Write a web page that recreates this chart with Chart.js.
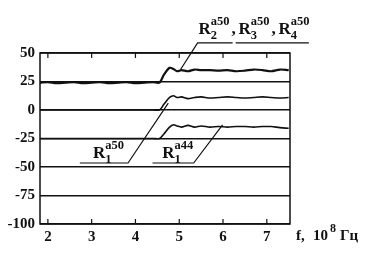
<!DOCTYPE html>
<html>
<head>
<meta charset="utf-8">
<script src="https://cdn.jsdelivr.net/npm/chart.js@4/dist/chart.umd.min.js"></script>
<style>
  body { margin: 0; background: #fff; }
</style>
</head>
<body>
<canvas id="c" width="370" height="270"></canvas>
<script>
// frequency, 10^8 Hz
const freq = [1.82, 2.0, 2.2, 2.4, 2.6, 2.8, 3.0, 3.2, 3.4, 3.6, 3.8, 4.0, 4.2, 4.4, 4.55,
  4.65, 4.78, 4.87, 4.95, 5.05, 5.2, 5.35, 5.5, 5.7, 5.9, 6.1, 6.3, 6.5, 6.7, 6.9, 7.1, 7.3, 7.5];
const r234 = [24, 24.5, 23.5, 24, 24.5, 23.5, 24, 24.5, 23.5, 24, 24.5, 23.5, 24, 24.5, 24,
  31, 37, 36, 34, 35, 34, 35.5, 35, 35, 34.5, 35, 34, 34.5, 35.5, 35, 34, 35.5, 35];
const r150 = [0, 0, 0, 0, 0, 0, 0, 0, 0, 0, 0, 0, 0, 0, 0,
  5, 11, 12.5, 11, 11.5, 10, 11, 11.5, 10.5, 11, 11.5, 11, 10.5, 11, 11.5, 11, 10.5, 11];
const r144 = [-25, -25, -25, -25, -25, -25, -25, -25, -25, -25, -25, -25, -25, -25, -25,
  -21, -15, -13, -14, -15, -13.5, -15, -14, -15, -14.5, -15, -14.5, -14.5, -15, -14.5, -14.5, -15.5, -16];
const xTicks = [2, 3, 4, 5, 6, 7];
const yTicks = [-100, -75, -50, -25, 0, 25, 50];

// leader lines for the curve labels (data coordinates)
const leaderTopA = [{x: 7.96, y: 58.8}, {x: 6.29, y: 58.8}];
const leaderTopB = [{x: 6.22, y: 58.8}, {x: 5.42, y: 58.8}, {x: 5.03, y: 35.5}];
const leader150 = [{x: 2.73, y: -46.5}, {x: 3.83, y: -46.5}, {x: 4.75, y: 6}];
const leader144 = [{x: 4.39, y: -46.5}, {x: 5.33, y: -46.5}, {x: 5.99, y: -13}];

const pts = vals => freq.map((f, i) => ({x: f, y: vals[i]}));

const curve = (data, w) => ({
  data: data, borderColor: '#111', borderWidth: w, pointRadius: 0, tension: 0.3, fill: false
});
const leader = data => ({
  data: data, borderColor: '#111', borderWidth: 1.2, pointRadius: 0, tension: 0, clip: false
});

function drawR(ctx, x, y, sub, sup) {
  ctx.font = 'bold 17px "Liberation Serif"';
  ctx.fillText('R', x, y);
  const w = ctx.measureText('R').width;
  ctx.font = 'bold 12.5px "Liberation Serif"';
  ctx.fillText(sup, x + w, y - 9);
  ctx.fillText(sub, x + w, y + 5);
  return x + w + ctx.measureText(sup).width;
}

const decor = {
  id: 'decor',
  afterDraw(chart) {
    const {ctx, chartArea: a, scales: {x, y}} = chart;
    ctx.save();
    ctx.strokeStyle = '#111';
    ctx.lineWidth = 1.5;
    ctx.strokeRect(a.left, a.top, a.right - a.left, a.bottom - a.top);
    ctx.lineWidth = 1.2;
    xTicks.forEach(v => {
      const px = x.getPixelForValue(v);
      ctx.beginPath();
      ctx.moveTo(px, a.bottom); ctx.lineTo(px, a.bottom - 5);
      ctx.moveTo(px, a.top); ctx.lineTo(px, a.top + 5);
      ctx.stroke();
    });
    ctx.fillStyle = '#111';
    ctx.textBaseline = 'alphabetic';
    // curve labels
    let px = x.getPixelForValue(5.44), py = y.getPixelForValue(66.5);
    px = drawR(ctx, px, py, '2', 'a50');
    ctx.font = 'bold 17px "Liberation Serif"';
    ctx.fillText(',', px + 2, py); px += 9;
    px = drawR(ctx, px, py, '3', 'a50');
    ctx.font = 'bold 17px "Liberation Serif"';
    ctx.fillText(',', px + 2, py); px += 9;
    drawR(ctx, px, py, '4', 'a50');
    drawR(ctx, x.getPixelForValue(3.03), y.getPixelForValue(-42), '1', 'a50');
    drawR(ctx, x.getPixelForValue(4.61), y.getPixelForValue(-42), '1', 'a44');
    // axis title
    const bx = a.right + 6, by = a.bottom + 16;
    ctx.font = 'bold 15px "Liberation Serif"';
    ctx.fillText('f,', bx, by);
    ctx.fillText('10', bx + 17, by);
    ctx.fillText('Гц', bx + 44, by);
    ctx.font = 'bold 12px "Liberation Serif"';
    ctx.fillText('8', bx + 34, by - 8);
    ctx.restore();
  }
};

new Chart(document.getElementById('c'), {
  type: 'line',
  data: {
    datasets: [
      curve(pts(r234), 2.2),
      curve(pts(r150), 1.6),
      curve(pts(r144), 1.6),
      leader(leaderTopA),
      leader(leaderTopB),
      leader(leader150),
      leader(leader144)
    ]
  },
  options: {
    responsive: false,
    animation: false,
    devicePixelRatio: 1,
    layout: {padding: {top: 53, right: 80, left: 0, bottom: 0}},
    plugins: {legend: {display: false}, tooltip: {enabled: false}},
    scales: {
      x: {
        type: 'linear', min: 1.82, max: 7.53,
        afterBuildTicks: s => { s.ticks = xTicks.map(v => ({value: v})); },
        afterFit: s => { s.height = 46; },
        grid: {display: false, drawTicks: false},
        border: {display: false},
        ticks: {color: '#111', padding: 4, maxRotation: 0,
          font: {family: '"Liberation Serif"', size: 15, weight: 'bold'}}
      },
      y: {
        min: -100, max: 50,
        afterBuildTicks: s => { s.ticks = yTicks.map(v => ({value: v})); },
        afterFit: s => { s.width = 40; },
        grid: {color: '#111', lineWidth: 1.4, drawTicks: false},
        border: {display: false},
        ticks: {color: '#111', padding: 5,
          font: {family: '"Liberation Serif"', size: 15, weight: 'bold'}}
      }
    }
  },
  plugins: [decor]
});
</script>
</body>
</html>
